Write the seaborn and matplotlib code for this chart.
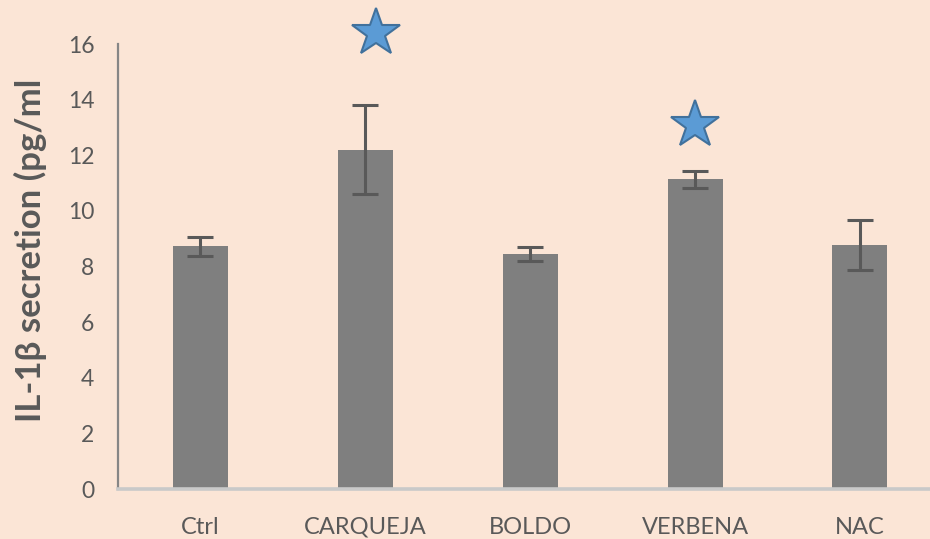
import matplotlib
matplotlib.use("Agg")
import matplotlib.pyplot as plt
import seaborn as sns
import pandas as pd

# IL-1β secretion per treatment (mean ± SD)
groups = ["Ctrl", "CARQUEJA", "BOLDO", "VERBENA", "NAC"]
secretion = [8.72, 12.2, 8.45, 11.13, 8.76]
sd = [0.35, 1.6, 0.25, 0.3, 0.9]

# groups marked as significantly different, with the marker level
sig_groups = ["CARQUEJA", "VERBENA"]
sig_level = [16.4, 13.07]

bg = "#FBE5D6"
text_gray = "#595959"

sns.set_theme(style="white")
plt.rcParams["font.family"] = ["Lato", "DejaVu Sans"]

fig = plt.figure(figsize=(9.3, 5.39), dpi=100, facecolor=bg)
ax = fig.add_axes([118 / 930, 50 / 539, 812 / 930, 445 / 539])
ax.set_facecolor(bg)

df = pd.DataFrame({"group": groups, "secretion": secretion})
sns.barplot(data=df, x="group", y="secretion", order=groups, color="#7F7F7F",
            saturation=1, width=0.334, errorbar=None, linewidth=0,
            edgecolor="none", ax=ax, zorder=2)

xpos = range(len(groups))
ax.errorbar(list(xpos), secretion, yerr=sd, fmt="none", ecolor=text_gray,
            elinewidth=2.2, capsize=9.5, capthick=2.2, zorder=3)

sig_x = [groups.index(g) + (0.065 if g == "CARQUEJA" else 0.0) for g in sig_groups]
ax.plot(sig_x, sig_level, linestyle="none", marker="*", markersize=36,
        markerfacecolor="#5B9BD5", markeredgecolor="#41719C",
        markeredgewidth=1.5, clip_on=False, zorder=4)

ax.set_ylim(0, 16)
ax.set_xlim(-0.5, 4.425)
ax.set_yticks(range(0, 17, 2))
ax.tick_params(axis="both", length=0, colors=text_gray)
ax.tick_params(axis="y", pad=17, labelsize=16.5)
ax.tick_params(axis="x", pad=20, labelsize=17)
ax.set_xlabel("")
ax.set_ylabel("IL-1β secretion (pg/ml", fontsize=25, fontweight="bold",
              color=text_gray)
ax.yaxis.set_label_coords(-0.088, 0.537)

for side in ["top", "right"]:
    ax.spines[side].set_visible(False)
ax.spines["left"].set_color("#868686")
ax.spines["left"].set_linewidth(1.6)
ax.spines["bottom"].set_color("#C9C9C9")
ax.spines["bottom"].set_linewidth(2.6)

fig.savefig("out.png", dpi=100, facecolor=bg)
